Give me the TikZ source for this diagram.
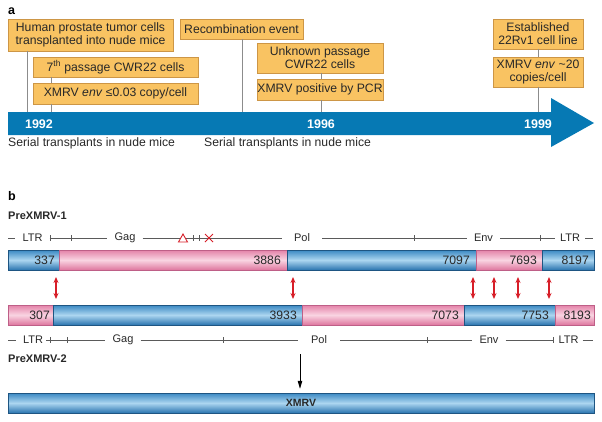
\documentclass[tikz,border=0pt]{standalone}
\usepackage{fontspec}
\setmainfont{Liberation Sans}
\usetikzlibrary{arrows.meta}
\definecolor{boxfill}{RGB}{249,195,98}
\definecolor{boxline}{RGB}{205,150,70}
\definecolor{txt}{RGB}{40,40,40}
\definecolor{linkgray}{RGB}{140,140,140}
\definecolor{bandblue}{RGB}{6,121,180}
\definecolor{geneline}{RGB}{90,90,90}
\definecolor{bluetop}{RGB}{58,136,195}
\definecolor{bluemid}{RGB}{172,214,240}
\definecolor{bluebot}{RGB}{42,116,175}
\definecolor{blueedge}{RGB}{30,85,130}
\definecolor{pinktop}{RGB}{228,130,168}
\definecolor{pinkmid}{RGB}{249,212,226}
\definecolor{pinkbot}{RGB}{222,118,158}
\definecolor{pinkedge}{RGB}{190,95,135}
\definecolor{xred}{RGB}{215,30,40}
\begin{document}
\begin{tikzpicture}[x=1pt, y=-1pt,
        event/.style={rectangle, draw=boxline, fill=boxfill, line width=0.6pt, inner sep=0pt, align=center, text=txt, font=\fontsize{12.2}{13}\selectfont},
        link/.style={draw=linkgray, line width=0.6pt},
        year/.style={text=white, inner sep=0pt, font=\bfseries\fontsize{12.5}{14}\selectfont},
        note/.style={anchor=west, inner sep=0pt, text=txt, font=\fontsize{12.2}{13}\selectfont},
        panel/.style={anchor=west, inner sep=0pt, font=\bfseries\fontsize{12.5}{14}\selectfont},
        strain/.style={anchor=west, inner sep=0pt, text=txt, font=\bfseries\fontsize{11}{13}\selectfont},
        gene/.style={inner xsep=7pt, inner ysep=0pt, text=txt, font=\fontsize{11}{13}\selectfont},
        gline/.style={draw=geneline, line width=0.6pt},
        blueseg/.style={draw=blueedge, line width=0.4pt, top color=bluetop, bottom color=bluebot, middle color=bluemid},
        pinkseg/.style={draw=pinkedge, line width=0.4pt, top color=pinktop, bottom color=pinkbot, middle color=pinkmid},
        num/.style={anchor=east, inner sep=0pt, text=txt, font=\fontsize{12.2}{13}\selectfont},
        xover/.style={{Stealth[length=6pt,width=5pt]}-{Stealth[length=6pt,width=5pt]}, draw=xred, fill=xred, line width=1.1pt},
        down/.style={-{Triangle[length=8pt,width=4.5pt]}, line width=0.8pt, shorten >=4pt}
    ]
        \useasboundingbox (0,0) rectangle (602,421);

        \node[panel] (pa) at (8,11) {a};
        \node[event, minimum width=165pt, minimum height=32pt] (human)    at (90.5,35)  {Human prostate tumor cells\\transplanted into nude mice};
        \node[event, minimum width=123pt, minimum height=20pt] (recomb)   at (241.5,29) {Recombination event};
        \node[event, minimum width=165pt, minimum height=20pt] (passage)  at (115.5,67) {7\textsuperscript{th} passage CWR22 cells};
        \node[event, minimum width=165pt, minimum height=21pt] (lowcopy)  at (115.5,93.5) {XMRV \textit{env} ≤0.03 copy/cell};
        \node[event, minimum width=126pt, minimum height=30pt] (unknown)  at (320,58)   {Unknown passage\\CWR22 cells};
        \node[event, minimum width=126pt, minimum height=21pt] (pcr)      at (320,89.5) {XMRV positive by PCR};
        \node[event, minimum width=90pt,  minimum height=30pt] (estab)    at (538,34)   {Established\\22Rv1 cell line};
        \node[event, minimum width=90pt,  minimum height=30pt] (highcopy) at (538,72)   {XMRV \textit{env} \textasciitilde20\\copies/cell};

        \fill[bandblue] (8,112) -- (551,112) -- (551,98) -- (594,123) -- (551,147) -- (551,135) -- (8,135) -- cycle;
        \coordinate (t92a) at (27,112);
        \coordinate (t92b) at (51,112);
        \coordinate (t96a) at (242,112);
        \coordinate (t96b) at (321,112);
        \coordinate (t99)  at (538,112);

        \draw[link] (human.south -| t92a) -- (t92a);
        \draw[link] (passage.south -| t92b) -- (lowcopy.north -| t92b);
        \draw[link] (lowcopy.south -| t92b) -- (t92b);
        \draw[link] (recomb.south -| t96a) -- (t96a);
        \draw[link] (unknown.south -| t96b) -- (pcr.north -| t96b);
        \draw[link] (pcr.south -| t96b) -- (t96b);
        \draw[link] (estab.south) -- (highcopy.north);
        \draw[link] (highcopy.south) -- (t99);

        \node[year] (y92) at (39,124)  {1992};
        \node[year] (y96) at (321,124) {1996};
        \node[year] (y99) at (538,124) {1999};
        \node[note] (serial1) at (8,143)   {Serial transplants in nude mice};
        \node[note] (serial2) at (204,143) {Serial transplants in nude mice};

        \node[panel] (pb) at (8,196) {b};
        \node[strain] (pre1) at (8,216) {PreXMRV-1};

        \coordinate (g1s) at (8,238);
        \node[gene] (ltr1a) at (32.5,238) {LTR};
        \node[gene] (gag1)  at (125,238)  {Gag};
        \node[gene, inner xsep=12pt] (pol1) at (302,238) {Pol};
        \node[gene] (env1)  at (483.5,238) {Env};
        \node[gene, inner xsep=5pt] (ltr1b) at (570,238) {LTR};
        \coordinate (g1e) at (593,238);
        \draw[gline] (g1s) -- (ltr1a.west);
        \draw[gline] (ltr1a.east) -- (gag1.west);
        \draw[gline] (gag1.east) -- (pol1.west);
        \draw[gline] (pol1.east) -- (env1.west);
        \draw[gline] (env1.east) -- (ltr1b.west);
        \draw[gline] (ltr1b.east) -- (g1e);
        \foreach \x in {50,71,193,199,414,540}
            \draw[gline] (\x,235) -- (\x,241);
        \draw[xred, line width=0.9pt, fill=white] (178.5,242) -- (183,234) -- (187.5,242) -- cycle;
        \draw[xred, line width=0.9pt] (205,234) -- (213,242) (205,242) -- (213,234);

        \path[blueseg] (8,250) rectangle (59,270);
        \path[pinkseg] (59,250) rectangle (287,270);
        \path[blueseg] (287,250) rectangle (476,270);
        \path[pinkseg] (476,250) rectangle (542,270);
        \path[blueseg] (542,250) rectangle (594,270);
        \node[num] (n337)  at (55,260)  {337};
        \node[num] (n3886) at (281,260) {3886};
        \node[num] (n7097) at (470,260) {7097};
        \node[num] (n7693) at (537,260) {7693};
        \node[num] (n8197) at (589,260) {8197};

        \foreach \x [count=\i] in {56,293,473,494,518,549} {
            \coordinate (r\i a) at (\x,277);
            \coordinate (r\i b) at (\x,299);
            \draw[xover] (r\i a) -- (r\i b);
        }

        \path[pinkseg] (8,305) rectangle (53,325);
        \path[blueseg] (53,305) rectangle (302,325);
        \path[pinkseg] (302,305) rectangle (464,325);
        \path[blueseg] (464,305) rectangle (555,325);
        \path[pinkseg] (555,305) rectangle (594,325);
        \node[num] (n307)  at (50,315)  {307};
        \node[num] (n3933) at (297,315) {3933};
        \node[num] (n7073) at (459,315) {7073};
        \node[num] (n7753) at (549,315) {7753};
        \node[num] (n8193) at (591,315) {8193};

        \coordinate (g2s) at (8,340);
        \node[gene, inner xsep=3pt] (ltr2a) at (33,340) {LTR};
        \node[gene] (gag2)  at (123,340) {Gag};
        \node[gene, inner xsep=13pt] (pol2) at (319,340) {Pol};
        \node[gene] (env2)  at (489,340) {Env};
        \node[gene, inner xsep=4pt] (ltr2b) at (568.5,340) {LTR};
        \coordinate (g2e) at (593,340);
        \draw[gline, shorten >=4pt] (g2s) -- (ltr2a.west);
        \draw[gline] (ltr2a.east) -- (gag2.west);
        \draw[gline] (gag2.east) -- (pol2.west);
        \draw[gline] (pol2.east) -- (env2.west);
        \draw[gline] (env2.east) -- (ltr2b.west);
        \draw[gline] (ltr2b.east) -- (g2e);
        \foreach \x in {50,67,223,427,553}
            \draw[gline] (\x,337) -- (\x,343);

        \node[strain] (pre2) at (8,359) {PreXMRV-2};

        \node[blueseg, minimum width=586pt, minimum height=20pt, inner sep=0pt, text=txt, font=\bfseries\fontsize{10.5}{12}\selectfont] (xmrv) at (301,403) {XMRV};
        \coordinate (split) at (300,354);
        \draw[down] (split) -- (xmrv.north -| split);
    \end{tikzpicture}
\end{document}
